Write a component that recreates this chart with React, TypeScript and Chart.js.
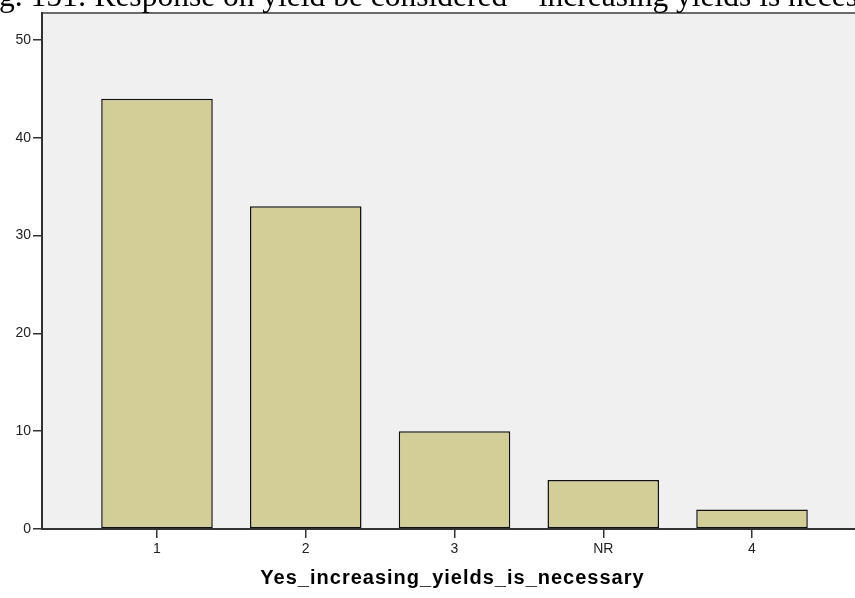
import React, { useEffect, useRef } from "react";
import { Chart, registerables } from "chart.js";

Chart.register(...registerables);

const categories = ["1", "2", "3", "NR", "4"];
const counts = [44, 33, 10, 5, 2];
const yTicks = [0, 10, 20, 30, 40, 50];
const xTitle = "Yes_increasing_yields_is_necessary";
const figTitle = "Fig. 151: Response on yield be considered – increasing yields is necessary";

export default function App() {
  const ref = useRef<HTMLCanvasElement>(null);

  useEffect(() => {
    const canvas = ref.current!;
    const framePlugin = {
      id: "frame",
      beforeDraw(chart: any) {
        const { ctx, chartArea: a } = chart;
        ctx.save();
        ctx.fillStyle = "#F0F0F0";
        ctx.fillRect(a.left, a.top, a.right - a.left, a.bottom - a.top);
        ctx.strokeStyle = "#6a6a6a";
        ctx.lineWidth = 2;
        ctx.beginPath();
        ctx.moveTo(a.left, a.top);
        ctx.lineTo(a.right, a.top);
        ctx.stroke();
        ctx.restore();
      },
      afterDraw(chart: any) {
        const { ctx, chartArea: a } = chart;
        ctx.save();
        // figure caption (clipped at top of page)
        ctx.font = "31.5px 'Liberation Serif', 'Times New Roman', serif";
        ctx.fillStyle = "#000";
        ctx.textAlign = "left";
        ctx.textBaseline = "alphabetic";
        const fi = ctx.measureText("Fi").width;
        ctx.fillText(figTitle, -fi - 1, 6);
        // x axis title
        ctx.font = "bold 20px 'Liberation Sans', Arial, sans-serif";
        (ctx as any).letterSpacing = "1px";
        ctx.textAlign = "center";
        ctx.fillText(xTitle, (a.left + a.right) / 2 - 2, 584);
        ctx.restore();
      },
    };

    const tickFont = { family: "'Liberation Sans', Arial, sans-serif", size: 14 };

    const chart = new Chart(canvas, {
      type: "bar",
      data: {
        datasets: [
          {
            data: categories.map((c, i) => ({ x: i, y: counts[i] })),
            backgroundColor: "#D3CE98",
            borderColor: "#111",
            borderWidth: 1.5,
            borderSkipped: false,
            categoryPercentage: 1,
            barPercentage: 0.75,
          } as any,
        ],
      },
      options: {
        responsive: false,
        animation: false,
        devicePixelRatio: 1,
        layout: { padding: { top: 13, right: 15, left: 0, bottom: 0 } },
        plugins: { legend: { display: false }, tooltip: { enabled: false }, title: { display: false } },
        scales: {
          x: {
            type: "linear",
            min: -0.773,
            max: 4.773,
            offset: false,
            grid: { display: true, offset: false, drawOnChartArea: false, drawTicks: true, tickLength: 9, color: "#333", lineWidth: 1.5 },
            border: { display: true, color: "#333", width: 2 },
            ticks: {
              font: tickFont,
              color: "#222",
              padding: 3,
              maxRotation: 0,
              autoSkip: false,
              callback: (v: any) => categories[v as number] ?? "",
            },
            afterBuildTicks: (s: any) => {
              s.ticks = categories.map((_, i) => ({ value: i }));
            },
            afterFit: (s: any) => {
              s.height = 69;
            },
          } as any,
          y: {
            type: "linear",
            min: 0,
            max: 52.76,
            grid: { display: true, drawOnChartArea: false, drawTicks: true, tickLength: 9, color: "#333", lineWidth: 1.5 },
            border: { display: true, color: "#333", width: 2 },
            ticks: { font: tickFont, color: "#222", padding: 2 },
            afterBuildTicks: (s: any) => {
              s.ticks = yTicks.map((v) => ({ value: v }));
            },
            afterFit: (s: any) => {
              s.width = 42;
            },
          } as any,
        },
      },
      plugins: [framePlugin],
    });
    return () => chart.destroy();
  }, []);

  return (
    <div style={{ position: "fixed", left: 0, top: 0, width: 855, height: 598, overflow: "hidden", background: "#fff" }}>
      <canvas ref={ref} width={882} height={598} style={{ display: "block", width: 882, height: 598 }} />
    </div>
  );
}
